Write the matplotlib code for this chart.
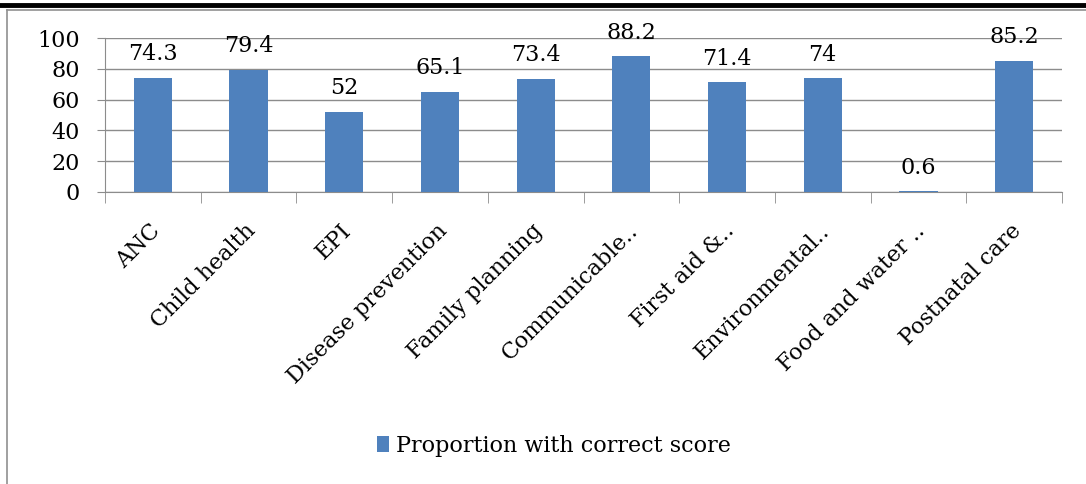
import matplotlib
matplotlib.use("Agg")
import matplotlib.pyplot as plt
import matplotlib.transforms as mtransforms
from matplotlib.lines import Line2D
from matplotlib.patches import Patch
import numpy as np

# -----------------------------------------------------
# DATA
# -----------------------------------------------------
categories = ["ANC", "Child health", "EPI", "Disease prevention",
              "Family planning", "Communicable..", "First aid &..",
              "Environmental..", "Food and water ..", "Postnatal care"]
values = [74.3, 79.4, 52, 65.1, 73.4, 88.2, 71.4, 74, 0.6, 85.2]
value_labels = ["74.3", "79.4", "52", "65.1", "73.4", "88.2", "71.4", "74", "0.6", "85.2"]
y_ticks = [0, 20, 40, 60, 80, 100]
series_name = "Proportion with correct score"

BAR = "#4F81BD"
GRID = "#8C8C8C"
W, H = 1086, 484

plt.rcParams["font.family"] = ["DejaVu Serif"]

fig = plt.figure(figsize=(W / 100, H / 100), dpi=100)
ax = fig.add_axes([105 / W, 1 - 192 / H, (1062 - 105) / W, (192 - 38) / H])

x = np.arange(len(categories))
bars = ax.bar(x, values, width=0.4, color=BAR, zorder=3)

for b, lab in zip(bars, value_labels):
    ax.annotate(lab, (b.get_x() + b.get_width() / 2, b.get_height()),
                xytext=(0, 9), textcoords="offset points",
                ha="center", va="bottom", fontsize=16, zorder=4)

ax.set_xlim(-0.5, len(categories) - 0.5)
ax.set_ylim(0, 100)
ax.set_yticks(y_ticks)
ax.tick_params(axis="y", labelsize=16, length=6, color=GRID, pad=12)
ax.yaxis.grid(True, color=GRID, linewidth=1, zorder=0)

# category labels at centres, tick marks at the boundaries
ax.set_xticks(x)
ax.set_xticklabels(categories, rotation=45, ha="right", va="top",
                   rotation_mode="anchor", fontsize=16)
ax.tick_params(axis="x", which="major", length=0, pad=20)
ax.set_xticks(np.arange(len(categories) + 1) - 0.5, minor=True)
ax.tick_params(axis="x", which="minor", length=8, color=GRID)

shift = mtransforms.ScaledTranslation(-4 / 100, 0, fig.dpi_scale_trans)
for lbl in ax.get_xticklabels():
    lbl.set_transform(lbl.get_transform() + shift)

for s in ["top", "right"]:
    ax.spines[s].set_visible(False)
for s in ["left", "bottom"]:
    ax.spines[s].set_color(GRID)

# legend at the bottom
fig.legend([Patch(facecolor=BAR)], [series_name], loc="center",
           bbox_to_anchor=(554 / W, 1 - 446 / H), frameon=False,
           fontsize=16, handlelength=0.55, handleheight=0.7, handletextpad=0.3)

# page frame: thick black rule on top, gray chart border
fig.add_artist(Line2D([0, 1], [1 - 5 / H, 1 - 5 / H], color="black",
                      linewidth=3.5, transform=fig.transFigure))
fig.add_artist(Line2D([7 / W, 1], [1 - 9.5 / H, 1 - 9.5 / H], color="#909090",
                      linewidth=1.2, transform=fig.transFigure))
fig.add_artist(Line2D([7 / W, 7 / W], [0, 1 - 9.5 / H], color="#909090",
                      linewidth=1.2, transform=fig.transFigure))

fig.savefig("out.png", dpi=100)
